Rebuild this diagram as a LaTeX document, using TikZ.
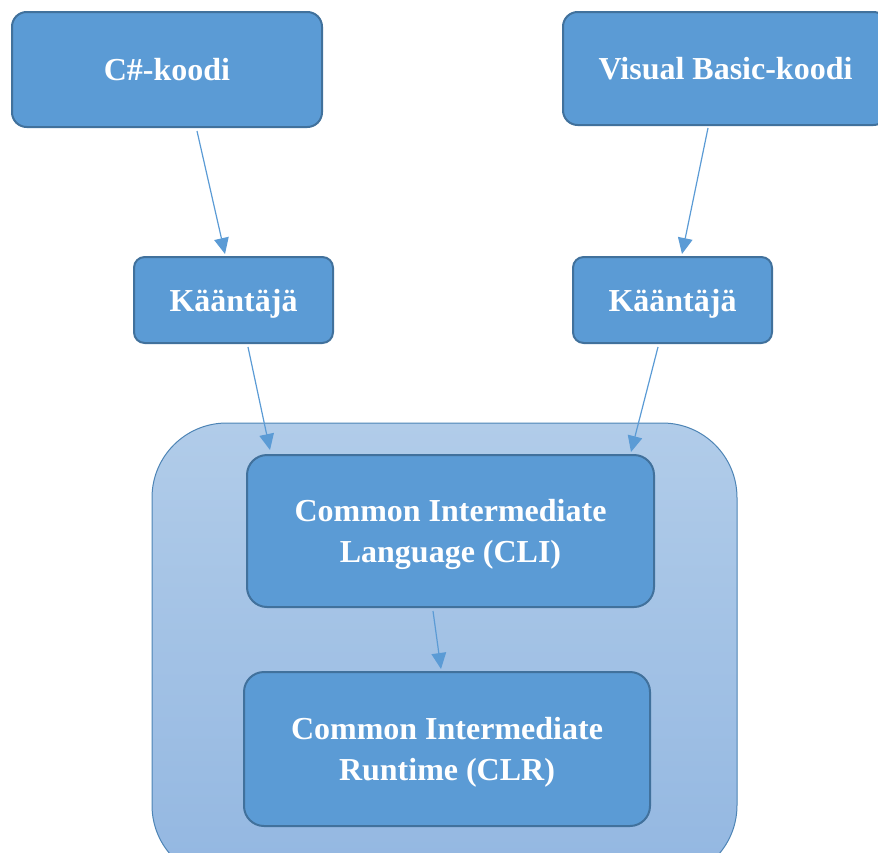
\documentclass[tikz,border=0pt]{standalone}
\usepackage{fontspec}
\setmainfont{Liberation Serif}
\usepackage{tikz}
\usetikzlibrary{arrows.meta, positioning, calc}
\definecolor{laatikko}{HTML}{5B9BD5}
\definecolor{reuna}{HTML}{41719C}
\definecolor{alustaylä}{HTML}{B1CCE9}
\definecolor{alustaala}{HTML}{93B7E1}
\tikzset{>={Triangle[width=11pt,length=12pt]}}

\begin{document}
\begin{tikzpicture}[x=0.75pt, y=-0.75pt, ->, line width=0.75pt,
	vaihe/.style={draw=reuna, line width=1.5pt, fill=laatikko, text=white,
		font=\fontsize{24}{31}\selectfont\bfseries, align=center, inner sep=0pt, text depth=0pt},
	nuoli/.style={draw=laatikko, line width=0.9pt}]
		\useasboundingbox (0,0) rectangle (878,853);
		% taustalaatikko
		\node (alusta) at (444.5,651.5) [draw=laatikko!85!black, line width=0.75pt,
			top color=alustaylä, bottom color=alustaala, rounded corners=56pt,
			minimum width=438.75pt, minimum height=342.75pt] {};
		\node (cs) at (167,69.5) [vaihe, rounded corners=11pt, minimum width=232.5pt, minimum height=86.25pt] {C\#-koodi};
		\node (vb) at (725.5,68.5) [vaihe, rounded corners=11pt, minimum width=243.75pt, minimum height=84.75pt] {Visual Basic-koodi};
		\node (k1) at (233.5,300) [vaihe, rounded corners=8pt, minimum width=149.25pt, minimum height=64.5pt] {Kääntäjä};
		\node (k2) at (672.5,300) [vaihe, rounded corners=8pt, minimum width=149.25pt, minimum height=64.5pt] {Kääntäjä};
		\node (cli) at (450.5,531) [vaihe, rounded corners=15pt, minimum width=305.25pt, minimum height=114pt] {Common Intermediate\\Language (CLI)};
		\node (clr) at (447,749) [vaihe, rounded corners=15pt, minimum width=304.5pt, minimum height=115.5pt] {Common Intermediate\\Runtime (CLR)};
		\draw [nuoli] ($(cs.south)+(30,3)$) -- ($(k1.north)+(-8.5,-2)$);
		\draw [nuoli] ($(vb.south)+(-17.5,2)$) -- ($(k2.north)+(9.5,-2)$);
		\draw [nuoli] ($(k1.south)+(14.5,3)$) -- ($(cli.north)+(-180.5,-4)$);
		\draw [nuoli] ($(k2.south)+(-14.5,3)$) -- ($(cli.north)+(180.5,-2)$);
		\draw [nuoli] ($(cli.south)+(-17.5,3)$) -- ($(clr.north)+(-6,-2)$);
\end{tikzpicture}
\end{document}
